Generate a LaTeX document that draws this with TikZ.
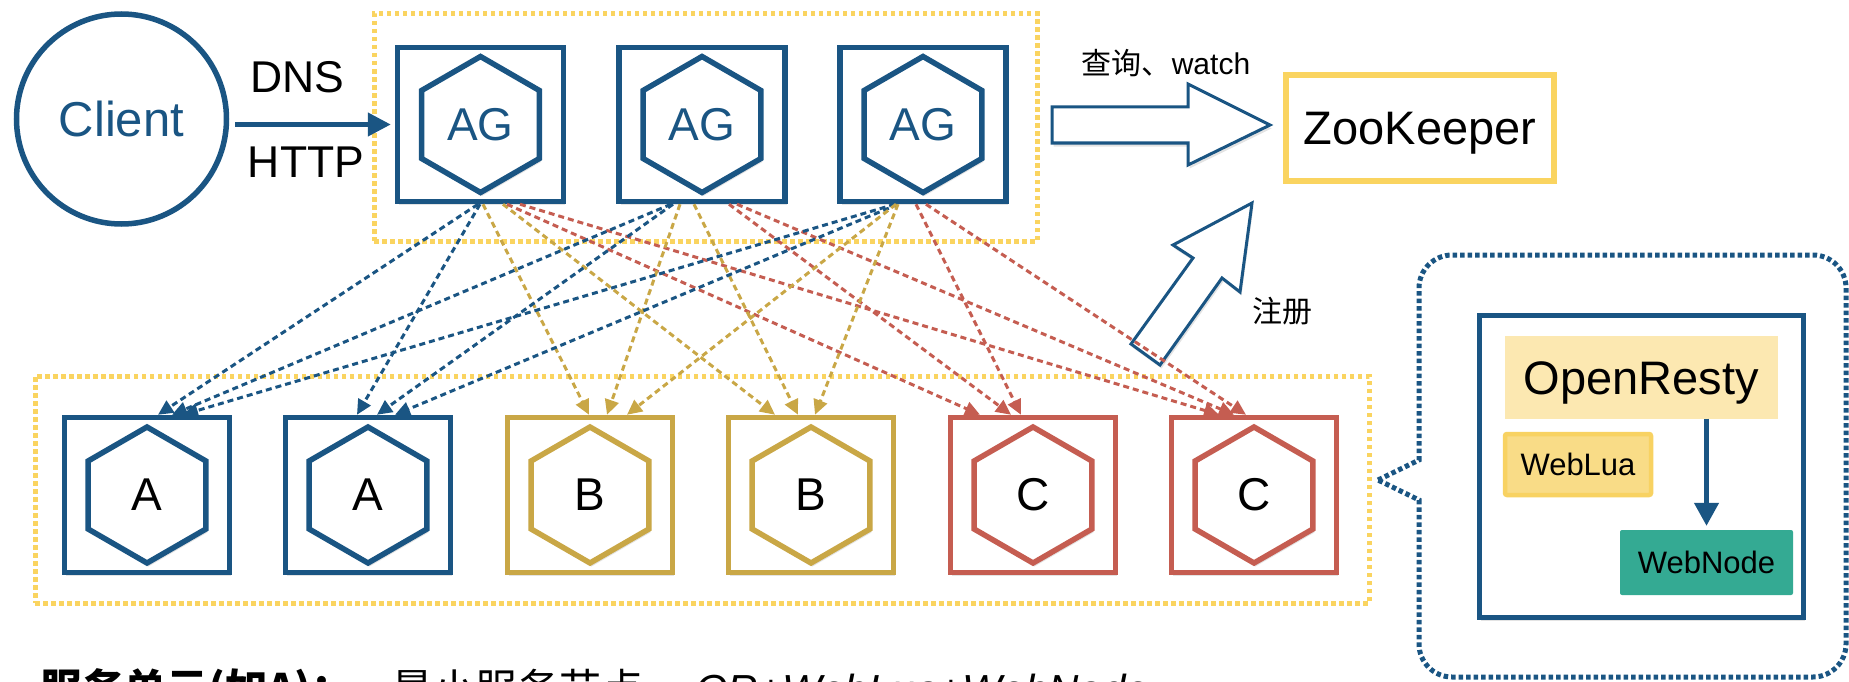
\documentclass[tikz,border=0pt]{standalone}
\usepackage{fontspec}
\setmainfont{Liberation Sans}
\newfontfamily\cjk{Noto Sans CJK SC}
\usetikzlibrary{arrows.meta,shapes.geometric,shadows}
\definecolor{cblue}{RGB}{26,85,131}
\definecolor{cgold}{RGB}{201,167,70}
\definecolor{cred}{RGB}{197,93,81}
\definecolor{cyel}{RGB}{250,212,96}
\definecolor{clight}{RGB}{252,232,177}
\definecolor{cweblua}{RGB}{249,220,135}
\definecolor{cwebluab}{RGB}{248,210,98}
\definecolor{cteal}{RGB}{52,170,147}
\tikzset{
  fs/.style={font=\fontsize{#1}{#1}\selectfont},
  shadebox/.style={drop shadow={shadow xshift=1.5pt,shadow yshift=-3.5pt,opacity=0.22}},
  svcbox/.style={draw=#1, line width=5.5pt, fill=white, minimum width=165pt, minimum height=155pt, inner sep=0pt, shadebox},
  hexnode/.style={draw=#1, line width=5.5pt, fill=white, regular polygon, regular polygon sides=6, shape border rotate=30, minimum size=136pt, inner sep=0pt, shadebox, fs=46},
  groupbox/.style={draw=cyel, line width=5pt, dash pattern=on 4.5pt off 3.5pt, inner sep=0pt},
  dep/.style={draw=#1, line width=3pt, dash pattern=on 6pt off 4pt, -{Triangle[length=15pt,width=14pt,fill=#1]}},
  fat/.style={draw=cblue, line width=3pt, fill=white, line join=miter, shadebox},
  lbl/.style={inner sep=0pt, fs=#1},
}
\begin{document}
\begin{tikzpicture}[x=1pt,y=-1pt]
\path[use as bounding box] (0,0) rectangle (1849,682);
\begin{scope}
\clip (0,0) rectangle (1849,682);
% group boxes
\node[groupbox, minimum width=663pt, minimum height=227pt] (topgrp) at (705.5,127.5) {};
\node[groupbox, minimum width=1334pt, minimum height=227pt] (botgrp) at (702,489.5) {};
% client
\node[circle, draw=cblue, line width=5.5pt, fill=white, minimum size=210pt, inner sep=0pt, text=cblue, fs=49] (client) at (121.5,119) {Client};
% AG boxes
\node[svcbox=cblue, minimum width=166pt, minimum height=154pt] (ag1) at (480.5,124.5) {};
\node[svcbox=cblue, minimum width=166pt, minimum height=154pt] (ag2) at (702,124.5) {};
\node[svcbox=cblue, minimum width=166pt, minimum height=154pt] (ag3) at (923,124.5) {};
\node[hexnode=cblue, text=cblue] (hag1) at (ag1) {AG};
\node[hexnode=cblue, text=cblue] (hag2) at (ag2) {AG};
\node[hexnode=cblue, text=cblue] (hag3) at (ag3) {AG};
% service boxes
\node[svcbox=cblue] (a1) at (147,495) {};
\node[svcbox=cblue] (a2) at (368,495) {};
\node[svcbox=cgold] (b1) at (590,495) {};
\node[svcbox=cgold] (b2) at (811,495) {};
\node[svcbox=cred] (c1) at (1033,495) {};
\node[svcbox=cred] (c2) at (1254,495) {};
\node[hexnode=cblue] (ha1) at (a1) {A};
\node[hexnode=cblue] (ha2) at (a2) {A};
\node[hexnode=cgold] (hb1) at (b1) {B};
\node[hexnode=cgold] (hb2) at (b2) {B};
\node[hexnode=cred] (hc1) at (c1) {C};
\node[hexnode=cred] (hc2) at (c2) {C};
% client arrow + labels
\draw[cblue, line width=4.5pt, -{Triangle[length=23pt,width=23pt]}, shorten <=6pt, shorten >=4pt] (client.east |- ag1.west) -- (ag1.west);
\node[lbl=44.5] (dns) at (297,77.5) {DNS};
\node[lbl=44.5] (http) at (306,162) {HTTP};
% ZooKeeper
\node[draw=cyel, line width=6pt, fill=white, minimum width=268pt, minimum height=105pt, fs=47, text height=34pt, text depth=0pt, shadebox] (zk) at (1420,128) {ZooKeeper};
% fat arrows
\draw[fat] (1052,107) -- (1188,107) -- (1188,84) -- (1270,125) -- (1188,165) -- (1188,143) -- (1052,143) -- cycle;
\draw[fat] (1252,203) -- (1240,292) -- (1222,278) -- (1160,365) -- (1131,344) -- (1193,258) -- (1173,245) -- cycle;
\node[lbl=30, anchor=base] (qw) at (1166,75) {{\cjk 查询、}watch};
\node[lbl=30, anchor=base] (reg) at (1282,322.5) {\cjk 注册};
% dependency arrows
\foreach \s/\sx/\t/\tx/\c in {
 ag1/-2.5/a1/11/cblue, ag1/-0.5/a2/-11/cblue, ag1/2.5/b1/-1/cgold, ag1/22.5/b2/-36/cgold, ag1/26.5/c1/-53/cred, ag1/39.5/c2/-35/cred,
 ag2/-31/a1/25/cblue, ag2/-29/a2/9/cblue, ag2/-22/b1/17/cgold, ag2/-8/b2/-13/cgold, ag2/27/c1/-22/cred, ag2/35/c2/-20/cred,
 ag3/-28/a1/36/cblue, ag3/-25/a2/27/cblue, ag3/-27/b1/37/cgold, ag3/-25/b2/4/cgold, ag3/-7/c1/-12/cred, ag3/3/c2/-8/cred}
 \draw[dep=\c] ([xshift=\sx pt]\s.south) -- ([xshift=\tx pt]\t.north);
% callout
\draw[cblue, line width=5pt, dash pattern=on 4.5pt off 3pt]
  (1378,480) -- (1419,460) [rounded corners=33pt] -- (1419,255) -- (1846,255) -- (1846,677) -- (1419,677) [sharp corners] -- (1419,500) -- cycle;
\node[draw=cblue, line width=5pt, fill=white, minimum width=324pt, minimum height=302pt, inner sep=0pt, shadebox] (unit) at (1641.5,466.5) {};
\node[fill=clight, minimum width=273pt, minimum height=83pt, inner sep=0pt, fs=47, text height=34pt, text depth=0pt] (or) at (1641.5,377) {OpenResty};
\node[fill=cweblua, draw=cwebluab, line width=4.5pt, rounded corners=2pt, minimum width=146pt, minimum height=61pt, inner sep=0pt, fs=31] (wl) at (1578,464.5) {WebLua};
\node[fill=cteal, rounded corners=2pt, minimum width=173pt, minimum height=65pt, inner sep=0pt, fs=31] (wn) at (1706.5,562.5) {WebNode};
\draw[cblue, line width=4.5pt, -{Triangle[length=23pt,width=24pt]}, shorten >=4pt] (or.south -| wn.north) -- (wn.north);
% bottom note
\node[anchor=base west, lbl=42] (note1) at (40,704) {\cjk\bfseries 服务单元(如A)：};
\node[anchor=base west, lbl=42] (note2) at (391,704) {\cjk 最小服务节点，};
\node[anchor=base west, lbl=42] (note3) at (695,704) {\itshape OR+WebLua+WebNode};
\end{scope}
\end{tikzpicture}
\end{document}
